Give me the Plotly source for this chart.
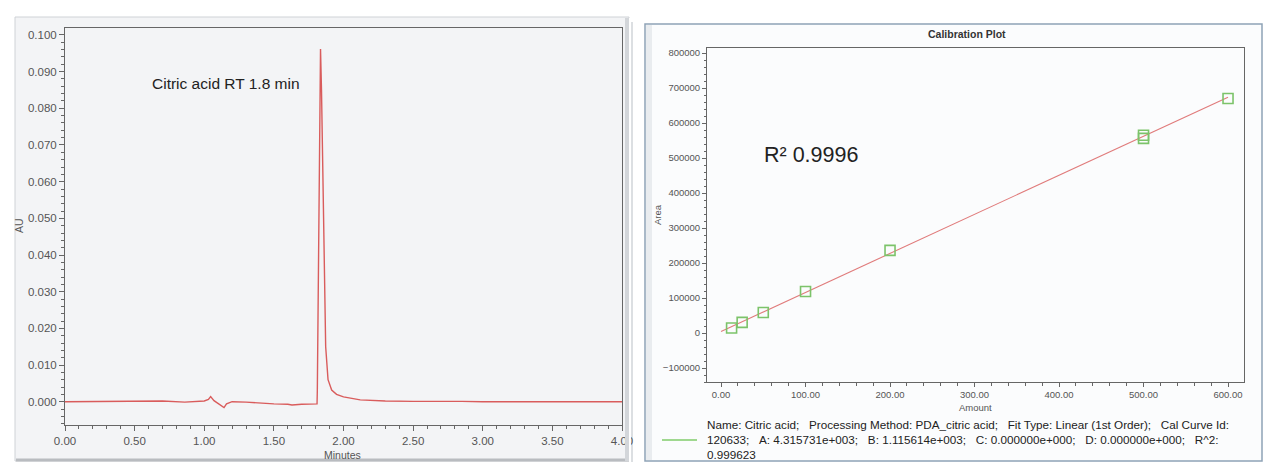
import plotly.graph_objects as go

# ---------------- data ----------------
# Chromatogram (left): retention time (min) and absorbance (AU)
chrom_time = [0.00, 0.20, 0.40, 0.55, 0.70, 0.86, 0.95, 1.00, 1.03, 1.046, 1.07, 1.10,
              1.125, 1.142, 1.16, 1.20, 1.30, 1.40, 1.50, 1.60, 1.63, 1.70, 1.80, 1.810,
              1.812, 1.818, 1.822, 1.828, 1.835, 1.842, 1.848, 1.855, 1.862, 1.872, 1.889,
              1.915, 1.95, 2.00, 2.12, 2.30, 2.50, 2.75, 2.78, 2.85, 3.00, 3.50, 4.00]
chrom_au = [0.0000, 0.0000, 0.0001, 0.0000, 0.0002, -0.0001, 0.0000, 0.0002, 0.0006, 0.0014,
            0.0003, -0.0005, -0.0012, -0.0016, -0.0006, 0.0000, -0.0001, -0.0004, -0.0006,
            -0.0007, -0.0009, -0.0007, -0.0006, -0.0006, 0.0030, 0.0300, 0.0600, 0.0850,
            0.0962, 0.0850, 0.0700, 0.0450, 0.0280, 0.0150, 0.0060, 0.0032, 0.0020, 0.0013,
            0.0005, 0.0002, 0.0001, 0.0001, 0.0003, 0.0001, 0.0000, 0.0000, 0.0000]

# Calibration (right): amount and peak area of the standards
cal_amount = [12.5, 25, 50, 100, 200, 500, 500, 600]
cal_area = [14500, 30500, 58500, 118500, 236000, 556000, 565000, 670000]

# Fit coefficients (Linear, 1st order): Area = A + B * Amount
fit_A = 4.315731e+003
fit_B = 1.115614e+003
fit_amount = [0, 600]
fit_area = [fit_A + fit_B * a for a in fit_amount]

left_yticks = [0.0, 0.01, 0.02, 0.03, 0.04, 0.05, 0.06, 0.07, 0.08, 0.09, 0.10]
left_xticks = [0.0, 0.5, 1.0, 1.5, 2.0, 2.5, 3.0, 3.5, 4.0]
right_yticks = [-100000, 0, 100000, 200000, 300000, 400000, 500000, 600000, 700000, 800000]
right_xticks = [0, 100, 200, 300, 400, 500, 600]

SP = "\u00a0\u00a0\u00a0"
legend_text = ("Name: Citric acid;" + SP + "Processing Method: PDA_citric acid;" + SP +
               "Fit Type: Linear (1st Order);" + SP + "Cal Curve Id:<br>"
               "120633;" + SP + "A: 4.315731e+003;" + SP + "B: 1.115614e+003;" + SP +
               "C: 0.000000e+000;" + SP + "D: 0.000000e+000;" + SP + "R^2:<br>"
               "0.999623")

# ---------------- figure ----------------
OFF = 8  # page body margin of the browser
W, H = 1280 - OFF, 475 - OFF
FONT = "Liberation Sans, Arial, sans-serif"


def px(x):
    return (x - OFF) / W


def py(y):
    return 1 - (y - OFF) / H


fig = go.Figure()

fig.add_trace(go.Scatter(x=chrom_time, y=chrom_au, mode="lines",
                         line=dict(color="#d95c5c", width=1.4),
                         xaxis="x", yaxis="y", showlegend=False, hoverinfo="x+y"))

fig.add_trace(go.Scatter(x=fit_amount, y=fit_area, mode="lines",
                         line=dict(color="#e07b7b", width=1.1),
                         xaxis="x2", yaxis="y2", showlegend=False))

fig.add_trace(go.Scatter(x=cal_amount, y=cal_area, mode="markers",
                         marker=dict(symbol="square-open", size=10, color="#7cc36a",
                                     line=dict(width=1.6, color="#7cc36a")),
                         xaxis="x2", yaxis="y2", showlegend=False))

axis_common = dict(showgrid=False, zeroline=False, showline=True, linecolor="#666666",
                   linewidth=1, mirror=True, ticks="outside", tickcolor="#666666",
                   automargin=False)

fig.update_layout(
    width=W, height=H,
    margin=dict(l=0, r=0, t=0, b=0, pad=0, autoexpand=False),
    paper_bgcolor="white",
    plot_bgcolor="#f8f9fb",
    font=dict(family=FONT, color="#333333"),
    xaxis=dict(axis_common, domain=[px(65), px(622)], range=[0, 4.0],
               tickvals=left_xticks, tickformat=".2f", ticklen=5,
               tickfont=dict(family=FONT, size=11.5, color="#555555"),
               minor=dict(dtick=0.1, ticklen=3, ticks="outside", tickcolor="#666666"),
               anchor="y"),
    yaxis=dict(axis_common, domain=[py(425), py(28)], range=[-0.00635, 0.1019],
               tickvals=left_yticks, tickformat=".3f", ticklen=5,
               tickfont=dict(family=FONT, size=11.5, color="#555555"),
               minor=dict(dtick=0.002, ticklen=3, ticks="outside", tickcolor="#666666"),
               anchor="x"),
    xaxis2=dict(axis_common, domain=[px(707), px(1244)], range=[-16.6, 618.9],
                tickvals=right_xticks, tickformat=".2f", ticklen=4,
                tickfont=dict(family=FONT, size=9.5, color="#555555"),
                minor=dict(dtick=20, ticklen=2.5, ticks="outside", tickcolor="#666666"),
                anchor="y2"),
    yaxis2=dict(axis_common, domain=[py(382), py(48)], range=[-140000, 814300],
                tickvals=right_yticks, tickformat="d", ticklen=4,
                tickfont=dict(family=FONT, size=9.5, color="#555555"),
                minor=dict(dtick=20000, ticklen=2.5, ticks="outside", tickcolor="#666666"),
                anchor="x2"),
)

# panel frames (decoration)
shapes = [
    # left panel
    dict(type="rect", xref="paper", yref="paper", x0=px(15), x1=px(629), y0=py(461), y1=py(17),
         line=dict(color="#cfd2d6", width=1), fillcolor="#f3f4f6", layer="below"),
    dict(type="line", xref="paper", yref="paper", x0=px(16), x1=px(629), y0=py(460), y1=py(460),
         line=dict(color="#b9bcc0", width=3), layer="below"),
    # right edge of left panel, drawn above so it clips the last tick label like the original
    dict(type="rect", xref="paper", yref="paper", x0=px(625), x1=px(629), y0=py(461), y1=py(18),
         line=dict(width=0), fillcolor="#d3d6da", layer="above"),
    dict(type="rect", xref="paper", yref="paper", x0=px(629), x1=px(631), y0=py(462), y1=py(18),
         line=dict(width=0), fillcolor="#ffffff", layer="above"),
    dict(type="line", xref="paper", yref="paper", x0=px(632), x1=px(632), y0=py(462), y1=py(22),
         line=dict(color="#dcdfe2", width=2), layer="below"),
    # right panel
    dict(type="rect", xref="paper", yref="paper", x0=px(645), x1=px(1262), y0=py(461), y1=py(24),
         line=dict(color="#8fa3b6", width=1.5), fillcolor="#fbfcfd", layer="below"),
    dict(type="rect", xref="paper", yref="paper", x0=px(646), x1=px(652), y0=py(460), y1=py(25),
         line=dict(width=0), fillcolor="#e9ecef", layer="below"),
    # legend line sample
    dict(type="line", xref="paper", yref="paper", x0=px(662), x1=px(697), y0=py(440), y1=py(440),
         line=dict(color="#9fd88f", width=2)),
]
fig.update_layout(shapes=shapes)

annotations = [
    dict(text="Citric acid RT 1.8 min", xref="paper", yref="paper", x=px(150), y=py(83),
         xanchor="left", yanchor="middle", showarrow=False,
         font=dict(family=FONT, size=15.5, color="#222222")),
    dict(text="AU", xref="paper", yref="paper", x=px(19), y=py(226), textangle=-90,
         xanchor="center", yanchor="middle", showarrow=False,
         font=dict(family=FONT, size=10.5, color="#555555")),
    dict(text="Minutes", xref="paper", yref="paper", x=px(342), y=py(455),
         xanchor="center", yanchor="middle", showarrow=False,
         font=dict(family=FONT, size=10.5, color="#555555")),
    dict(text="<b>Calibration Plot</b>", xref="paper", yref="paper", x=px(967), y=py(34),
         xanchor="center", yanchor="middle", showarrow=False,
         font=dict(family=FONT, size=10.5, color="#333333")),
    dict(text="R\u00b2 0.9996", xref="paper", yref="paper", x=px(762), y=py(155),
         xanchor="left", yanchor="middle", showarrow=False,
         font=dict(family=FONT, size=21.5, color="#222222")),
    dict(text="Amount", xref="paper", yref="paper", x=px(975), y=py(407),
         xanchor="center", yanchor="middle", showarrow=False,
         font=dict(family=FONT, size=9.5, color="#555555")),
    dict(text="Area", xref="paper", yref="paper", x=px(657), y=py(215), textangle=-90,
         xanchor="center", yanchor="middle", showarrow=False,
         font=dict(family=FONT, size=9.5, color="#555555")),
    dict(text=legend_text, xref="paper", yref="paper", x=px(705), y=py(416),
         xanchor="left", yanchor="top", align="left", showarrow=False,
         font=dict(family=FONT, size=11.7, color="#222222")),
]
fig.update_layout(annotations=annotations)

fig.write_html("out.html")
